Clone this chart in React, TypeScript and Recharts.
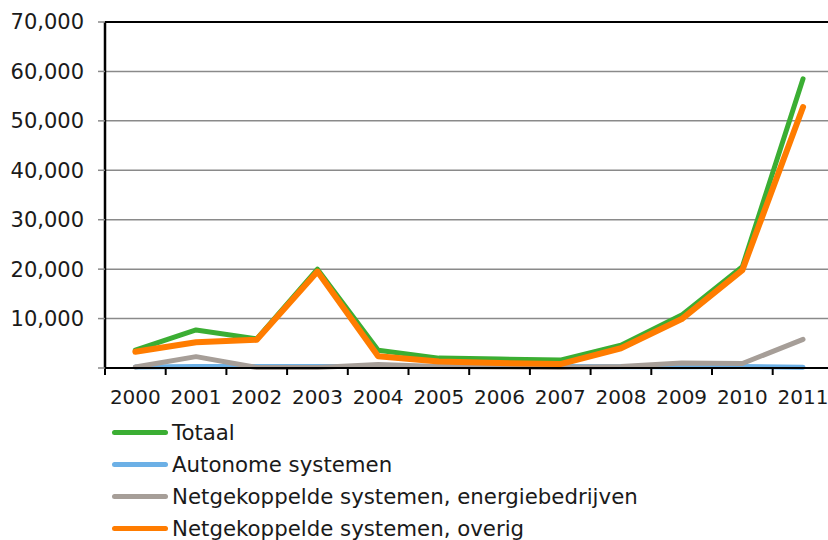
import { LineChart, Line, XAxis, YAxis, CartesianGrid, ReferenceLine, Legend } from 'recharts'

const years = ['2000', '2001', '2002', '2003', '2004', '2005', '2006', '2007', '2008', '2009', '2010', '2011']
const totaal = [3600, 7700, 5900, 20000, 3600, 2000, 1800, 1600, 4600, 10700, 20500, 58500]
const autonoom = [200, 300, 300, 300, 300, 300, 300, 300, 250, 250, 300, 150]
const energiebedrijven = [200, 2300, 100, 100, 700, 300, 200, 100, 300, 1000, 900, 5800]
const overig = [3300, 5200, 5700, 19500, 2400, 1300, 1000, 800, 4000, 9900, 19800, 52800]
const yTicks = [0, 10000, 20000, 30000, 40000, 50000, 60000, 70000]

const series = [
  { key: 'totaal', label: 'Totaal', color: '#3bae33', width: 5 },
  { key: 'autonoom', label: 'Autonome systemen', color: '#6cb0e6', width: 5 },
  { key: 'energie', label: 'Netgekoppelde systemen, energiebedrijven', color: '#a69e98', width: 5 },
  { key: 'overig', label: 'Netgekoppelde systemen, overig', color: '#ff7c00', width: 6 },
]

const data = years.map((y, i) => ({
  idx: i,
  year: y,
  totaal: totaal[i],
  autonoom: autonoom[i],
  energie: energiebedrijven[i],
  overig: overig[i],
}))

// tick lines sit on the category boundaries, labels in the middle
const boundaries = years.map((_, i) => i - 0.5).concat(years.length - 0.5)

const font = '"DejaVu Sans", Verdana, sans-serif'
const BAND = 728.4 / years.length

function YearTick(props: any) {
  const { x, y, payload } = props
  const i = payload.value + 0.5
  if (i >= years.length) return null
  return (
    <text x={x + BAND / 2} y={y} dy="0.71em" textAnchor="middle" fill="#1a1a1a" fontSize={20} fontFamily={font}>
      {years[i]}
    </text>
  )
}

function LegendBox() {
  return (
    <div style={{ fontFamily: font, fontSize: 21.3, color: '#1a1a1a' }}>
      {series.map((s) => (
        <div key={s.key} style={{ display: 'flex', alignItems: 'center', height: 31.8, whiteSpace: 'nowrap' }}>
          <span
            style={{
              display: 'inline-block',
              width: 56,
              height: 5,
              borderRadius: 3,
              background: s.color,
              marginRight: 4,
            }}
          />
          <span>{s.label}</span>
        </div>
      ))}
    </div>
  )
}

export default function App() {
  return (
    <div style={{ position: 'absolute', left: 0, top: 0, width: 828, height: 540, overflow: 'hidden', background: '#fff' }}>
      <LineChart width={840} height={540} data={data} margin={{ top: 22, right: 6.6, left: 0, bottom: 142 }}>
        <CartesianGrid vertical={false} stroke="#8a8a8a" strokeWidth={1.5} />
        <XAxis
          dataKey="idx"
          type="number"
          domain={[-0.5, years.length - 0.5]}
          ticks={boundaries}
          interval={0}
          tick={<YearTick />}
          tickSize={7}
          tickMargin={15}
          axisLine={{ stroke: '#000', strokeWidth: 2 }}
          tickLine={{ stroke: '#000', strokeWidth: 2 }}
          height={30}
        />
        <YAxis
          width={105}
          domain={[0, 70000]}
          ticks={yTicks}
          interval={0}
          tickFormatter={(v: number) => (v === 0 ? '' : v.toLocaleString('en-US'))}
          tick={{ fill: '#1a1a1a', fontSize: 21, fontFamily: font }}
          tickSize={7}
          tickMargin={14}
          axisLine={{ stroke: '#000', strokeWidth: 2.5 }}
          tickLine={{ stroke: '#8a8a8a', strokeWidth: 1.5 }}
        />
        <ReferenceLine y={70000} stroke="#000" strokeWidth={2} />
        <Legend
          layout="vertical"
          align="center"
          verticalAlign="middle"
          wrapperStyle={{ left: 112, top: 416.8, width: 700 }}
          content={<LegendBox />}
        />
        {series.map((s) => (
          <Line
            key={s.key}
            dataKey={s.key}
            name={s.label}
            stroke={s.color}
            strokeWidth={s.width}
            strokeLinecap="round"
            strokeLinejoin="round"
            dot={false}
            activeDot={false}
            isAnimationActive={false}
          />
        ))}
      </LineChart>
    </div>
  )
}
